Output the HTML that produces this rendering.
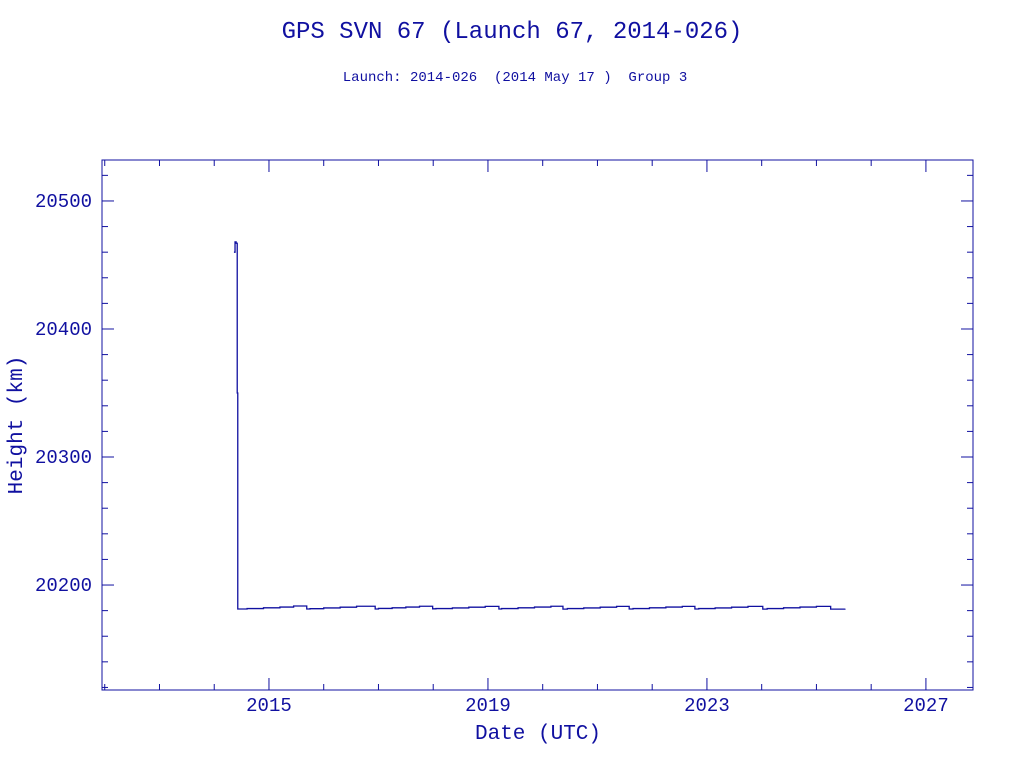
<!DOCTYPE html>
<html><head><meta charset="utf-8"><style>
body{margin:0;background:#fff}
svg text{font-family:"Liberation Mono",monospace;fill:#1010a0}
</style></head><body>
<svg width="1024" height="768" xmlns="http://www.w3.org/2000/svg">
<text x="512" y="38" text-anchor="middle" font-size="24">GPS SVN 67 (Launch 67, 2014-026)</text>
<text x="515" y="81" text-anchor="middle" font-size="14" xml:space="preserve" style="white-space:pre">Launch: 2014-026  (2014 May 17 )  Group 3</text>
<rect x="102" y="160" width="871" height="530" fill="none" stroke="#1010a0" stroke-width="1"/>
<g id="axes"></g>
<path id="series" fill="none" stroke="#1010a0" stroke-width="1.3"/>
<text x="538" y="739" text-anchor="middle" font-size="21">Date (UTC)</text>
<text transform="translate(22,425) rotate(-90)" text-anchor="middle" font-size="21">Height (km)</text>
</svg>
<script>
const xTicks=[2015,2019,2023,2027];
const yTicks=[20200,20300,20400,20500];
const dates=[2014.36,2014.38,2014.40,2014.42,2014.43,2014.43,2014.60,2014.90,2015.20,2015.45,2015.69,
2015.75,2016.00,2016.30,2016.60,2016.94,2017.00,2017.25,2017.50,2017.75,2017.99,
2018.05,2018.35,2018.65,2018.95,2019.20,2019.25,2019.55,2019.85,2020.15,2020.37,
2020.45,2020.75,2021.05,2021.35,2021.58,2021.65,2021.95,2022.25,2022.55,2022.78,
2022.85,2023.15,2023.45,2023.75,2024.02,2024.10,2024.40,2024.70,2025.00,2025.26,2025.52];
const heights=[20460,20468,20467,20350,20350,20181.3,20181.6,20182.2,20182.8,20183.6,20181.3,
20181.5,20182.1,20182.7,20183.4,20181.3,20181.7,20182.2,20182.8,20183.4,20181.4,
20181.6,20182.1,20182.7,20183.3,20181.3,20181.6,20182.2,20182.8,20183.4,20181.2,
20181.6,20182.1,20182.7,20183.3,20181.3,20181.6,20182.2,20182.8,20183.3,20181.3,
20181.6,20182.1,20182.7,20183.3,20181.2,20181.6,20182.2,20182.8,20183.3,20181.2,20181.6];
const X0=102,X1=973,Y0=690,Y1=160,xmin=2011.95,xmax=2027.86,ymin=20118,ymax=20532;
const sx=v=>X0+(v-xmin)/(xmax-xmin)*(X1-X0);
const sy=v=>Y0-(v-ymin)/(ymax-ymin)*(Y0-Y1);
const NS="http://www.w3.org/2000/svg";
const g=document.getElementById('axes');
function line(x1,y1,x2,y2,name){const l=document.createElementNS(NS,'line');
l.setAttribute('x1',x1);l.setAttribute('y1',y1);l.setAttribute('x2',x2);l.setAttribute('y2',y2);
l.setAttribute('stroke','#1010a0');


g.appendChild(l);}
function txt(x,y,s,anchor,name){const t=document.createElementNS(NS,'text');
t.setAttribute('x',x);t.setAttribute('y',y);t.setAttribute('font-size','19');t.setAttribute('text-anchor',anchor);t.textContent=s;


g.appendChild(t);}
for(let yr=2012;yr<=2027;yr++){const x=sx(yr);const maj=xTicks.includes(yr);const L=maj?12:6;
line(x,Y0,x,Y0-L,'x-tick');line(x,Y1,x,Y1+L,'x-tick-top');}
xTicks.forEach(v=>txt(sx(v),711,String(v),'middle','x-tick-label'));
for(let v=20120;v<=20520;v+=20){const y=sy(v);const maj=yTicks.includes(v);const L=maj?12:6;
line(X0,y,X0+L,y,'y-tick');line(X1,y,X1-L,y,'y-tick-right');}
yTicks.forEach(v=>txt(92,sy(v)+6,String(v),'end','y-tick-label'));
let d='';
for(let i=0;i<dates.length;i++){const x=sx(dates[i]),y=sy(heights[i]);
if(i===0)d+='M'+x+' '+y;else{d+='H'+x+'V'+y;}}
document.getElementById('series').setAttribute('d',d);
</script>
</body></html>
